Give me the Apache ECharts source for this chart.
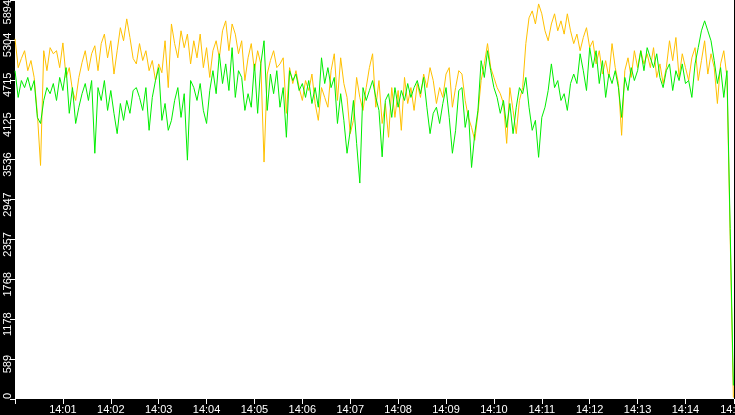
<!DOCTYPE html>
<html>
<head>
<meta charset="utf-8">
<script src="https://cdn.jsdelivr.net/npm/echarts@6/dist/echarts.min.js"></script>
<style>
  html, body { margin: 0; padding: 0; background: #000; }
  #chart { width: 735px; height: 415px; }
</style>
</head>
<body>
<div id="chart"></div>
<script>
// samples every 4 s starting at 14:00:00
var startTime = new Date(2024, 0, 1, 14, 0, 0).getTime();
var stepMs = 4000;

var goldValues = [
  5320, 4895, 5030, 5145, 4850, 5000, 4750, 4220, 3450, 5145, 4850, 5190, 5100, 5145, 4895, 5260, 4750, 4895, 4557, 4410, 4750, 4970, 5145, 4850, 5100, 5218, 4850, 5250,
  5390, 5040, 5292, 4800, 5145, 5485, 5292, 5615, 5340, 5030, 4950, 5250, 5000, 5145, 4850, 5000, 4704, 4950, 4820, 5292, 4600, 5540, 5250, 5040, 5439, 5190, 5390, 4950,
  5292, 5040, 5390, 4895, 5190, 4750, 5145, 5292, 5040, 5439, 5586, 5145, 5540, 5390, 5100, 5292, 4704, 5040, 5250, 4850, 5145, 4950, 3500, 4800, 5000, 5145, 4895, 4950,
  5040, 4220, 4895, 4660, 4850, 4600, 4410, 4704, 4557, 4800, 4365, 4116, 4600, 4455, 4310, 4850, 5100, 4410, 5040, 4660, 4455, 3920, 4116, 4750, 4455, 4263, 4600, 4895,
  5100, 4310, 4704, 4070, 4365, 3866, 4600, 4160, 4557, 3969, 4750, 4365, 4600, 4263, 4660, 4455, 4800, 4600, 4895, 4704, 4365, 4600, 4455, 4800, 4895, 4310, 4600, 4850,
  4800, 4410, 4160, 4012, 3822, 4220, 4704, 4950, 5250, 4895, 4750, 4600, 4510, 4365, 3776, 4600, 4263, 3920, 4410, 4600, 5250, 5630, 5733, 5540, 5836, 5690, 5439, 5292,
  5540, 5690, 5439, 5586, 5390, 5690, 5439, 5250, 5390, 5145, 5340, 5485, 5190, 5292, 4950, 5145, 4800, 4998, 4750, 5250, 4895, 4660, 3895, 4850, 5040, 4750, 5145, 4895,
  5145, 4950, 5100, 4895, 5190, 4750, 4950, 4660, 4895, 5292, 4998, 5340, 4750, 5100, 4895, 4704, 5040, 5190, 4704, 4998, 5292, 4800, 5100, 4895, 4365, 4950, 5145, 4750,
  2400, 20
];

var greenValues = [
  4850, 4455, 4704, 4600, 4750, 4557, 4704, 4160, 4070, 4410, 4600, 4510, 4660, 4410, 4750, 4557, 4895, 4220, 4600, 4070, 4310, 4510, 4660, 4410, 4704, 3630, 4600, 4410,
  4704, 4263, 4557, 4220, 3920, 4365, 4116, 4410, 4220, 4557, 4600, 4455, 4263, 4600, 3969, 4455, 4704, 4895, 4116, 4365, 3969, 4116, 4410, 4600, 4160, 4510, 3528, 4704,
  4600, 4410, 4660, 4263, 4070, 4557, 4850, 4510, 5100, 4660, 4950, 4557, 5190, 4455, 4850, 4750, 4263, 4510, 4310, 4950, 4220, 4950, 5292, 4263, 4800, 4510, 4850, 4310,
  4600, 3866, 4850, 4704, 4800, 4557, 4660, 4455, 4704, 4365, 4600, 4310, 5040, 4660, 4895, 4600, 4750, 4070, 4510, 4116, 3630, 3969, 4410, 3776, 3190, 4600, 4410, 4557,
  4704, 4455, 4263, 3577, 4410, 4510, 4160, 4600, 4310, 4557, 4410, 4660, 4455, 4600, 4704, 4510, 4750, 4310, 3920, 4220, 4310, 4070, 4365, 4600, 4160, 3630, 3969, 4557,
  4600, 4012, 4263, 3420, 3920, 4263, 4998, 4750, 5145, 4850, 4600, 4455, 4220, 4410, 4012, 4365, 3920, 4310, 4600, 4510, 4750, 4310, 3969, 4116, 3570, 4160, 4310, 4557,
  4950, 4600, 4704, 4410, 4510, 4263, 4660, 4800, 4660, 5100, 4850, 4557, 5190, 4895, 5145, 4660, 4998, 4455, 4800, 4660, 4850, 4600, 4160, 4750, 4557, 4895, 4704, 4850,
  5145, 4850, 5190, 5040, 4895, 5100, 4750, 4600, 4850, 4950, 4557, 4850, 4704, 4950, 4660, 4704, 4455, 4950, 5190, 5439, 5586, 5439, 5292, 4998, 4660, 4895, 4455, 4850,
  2520, 200
];

var yMax = 5894;
var yStep = 589.4;

function toPairs(values) {
  var out = [];
  for (var i = 0; i < values.length; i++) {
    out.push([startTime + i * stepMs, values[i]]);
  }
  return out;
}

function pad(n) { return (n < 10 ? '0' : '') + n; }

var chart = echarts.init(document.getElementById('chart'));
chart.setOption({
  animation: false,
  backgroundColor: '#000',
  grid: {
    show: true,
    left: 15, right: 1, top: 0, bottom: 16,
    outerBoundsMode: 'none',
    containLabel: false,
    backgroundColor: '#fff',
    borderWidth: 0
  },
  xAxis: {
    type: 'time',
    min: startTime,
    max: startTime + 15 * 60000 + 800,
    minInterval: 60000,
    maxInterval: 60000,
    axisLine: { show: false },
    axisTick: { show: true, length: 5, lineStyle: { color: '#fff', width: 1 } },
    splitLine: { show: false },
    axisLabel: {
      color: '#fff',
      fontFamily: 'Liberation Sans',
      fontSize: 11,
      margin: 5,
      hideOverlap: false,
      showMaxLabel: true,
      alignMaxLabel: 'center',
      formatter: function (v) {
        if (v <= startTime) return '';
        var d = new Date(v);
        return pad(d.getHours()) + ':' + pad(d.getMinutes());
      }
    }
  },
  yAxis: {
    type: 'value',
    min: 0,
    max: yMax,
    interval: yStep,
    axisLine: { show: false },
    axisTick: { show: true, length: 5, lineStyle: { color: '#fff', width: 1 } },
    splitLine: { show: false },
    axisLabel: {
      color: '#fff',
      fontFamily: 'Liberation Sans',
      fontSize: 11,
      rotate: 90,
      margin: 2,
      alignMinLabel: 'left',
      alignMaxLabel: 'right',
      formatter: function (v) {
        var s = String(Math.floor(v + 1e-6));
        if (v <= 0 || v >= yMax - 1) return s;
        return '{m|' + s + '}';
      },
      rich: {
        m: { padding: [0, 10, 0, 0], color: '#fff', fontFamily: 'Liberation Sans', fontSize: 11 }
      }
    }
  },
  series: [
    {
      type: 'line',
      data: toPairs(goldValues),
      showSymbol: false,
      lineStyle: { color: '#ffc000', width: 1 },
      itemStyle: { color: '#ffc000' }
    },
    {
      type: 'line',
      data: toPairs(greenValues),
      showSymbol: false,
      lineStyle: { color: '#00ee00', width: 1 },
      itemStyle: { color: '#00ee00' }
    }
  ]
});
</script>
</body>
</html>
